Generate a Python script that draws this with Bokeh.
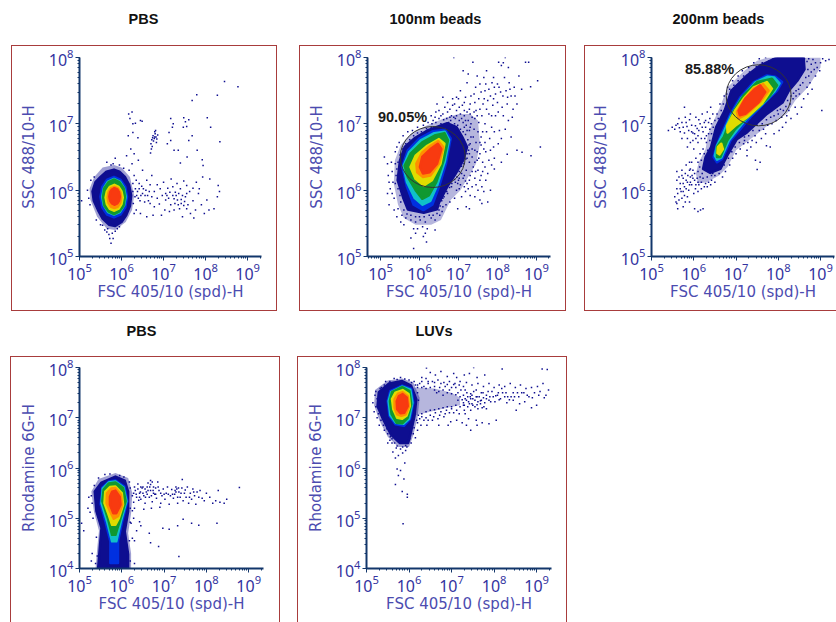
from bokeh.plotting import figure
from bokeh.layouts import column, row
from bokeh.models import Range1d, Label, LogTicker, Title
from bokeh.embed import file_html
from bokeh.resources import INLINE

FSC = "FSC 405/10 (spd)-H"
SSC = "SSC 488/10-H"
RHO = "Rhodamine 6G-H"
COL = dict(navy="#0e0e90", blue="#0030e0", cyan="#10c0c8", green="#109830", yellow="#e0dc00", orange="#ff9000", red="#f83a10")

# all values are log10 of the channel reading
pbs1_halo = [(5.82,6.38),(6.0,6.34),(6.2,6.2),(6.3,5.92),(6.25,5.7),(6.1,5.52),(5.85,5.4),(5.65,5.42),(5.42,5.6),(5.26,5.85),(5.24,6.02),(5.35,6.2),(5.55,6.34)]
pbs1_navy = [(5.82,6.31),(5.95,6.28),(6.08,6.20),(6.18,6.08),(6.23,5.92),(6.20,5.76),(6.11,5.62),(6.0,5.52),(5.85,5.46),(5.7,5.48),(5.55,5.57),(5.44,5.70),(5.34,5.84),(5.31,5.98),(5.38,6.12),(5.50,6.20),(5.64,6.28)]
pbs1_blue = [(6.13,5.90),(6.09,6.05),(5.97,6.16),(5.82,6.20),(5.66,6.16),(5.54,6.05),(5.50,5.90),(5.54,5.74),(5.66,5.63),(5.82,5.59),(5.97,5.63),(6.09,5.74)]
pbs1_cyan = [(6.10,5.90),(6.06,6.03),(5.96,6.13),(5.82,6.17),(5.68,6.13),(5.58,6.03),(5.54,5.90),(5.58,5.77),(5.68,5.67),(5.82,5.63),(5.96,5.67),(6.06,5.77)]
pbs1_green = [(6.08,5.90),(6.05,6.03),(5.95,6.12),(5.82,6.16),(5.69,6.12),(5.59,6.03),(5.56,5.90),(5.59,5.77),(5.69,5.68),(5.82,5.64),(5.95,5.68),(6.05,5.77)]
pbs1_yellow = [(6.03,5.89),(6.0,5.98),(5.93,6.05),(5.83,6.08),(5.72,6.05),(5.65,5.98),(5.62,5.89),(5.65,5.79),(5.72,5.72),(5.83,5.69),(5.93,5.72),(6.0,5.79)]
pbs1_orange = [(5.99,5.89),(5.97,5.97),(5.91,6.03),(5.83,6.05),(5.75,6.03),(5.69,5.97),(5.67,5.89),(5.69,5.81),(5.75,5.75),(5.83,5.73),(5.91,5.75),(5.97,5.81)]
pbs1_red = [(5.96,5.90),(5.94,5.97),(5.90,6.01),(5.83,6.03),(5.77,6.01),(5.73,5.97),(5.71,5.90),(5.73,5.84),(5.77,5.80),(5.83,5.78),(5.90,5.80),(5.94,5.84)]
pbs1_dots = [(8.45,7.64),(8.77,7.56),(8.28,7.43),(7.79,7.44),(7.68,7.35),(8.04,7.09),(8.12,6.95),(8.34,6.73),(6.17,7.15),(6.25,7.18),(6.2,7.08),(6.27,7.0),(6.33,7.01),(6.45,7.05),(6.49,7.04),(6.16,6.82),(6.27,6.87),(6.39,6.79),
(6.79,6.80),(6.72,6.76),(6.75,6.82),(6.78,6.78),(6.8,6.85),(6.82,6.8),(6.76,6.74),(6.84,6.77),(6.79,6.88),(6.74,6.79),(6.83,6.72),(6.7,6.7),(6.73,6.66),(6.71,6.62),(6.69,6.56),(6.81,6.9),(6.86,6.83),
(7.17,7.08),(7.23,7.0),(7.21,6.95),(7.13,6.87),(7.48,7.09),(7.47,6.95),(7.55,6.96),(7.6,7.06),(7.68,6.82),(7.52,7.03),(7.17,6.75),(7.09,6.7),(7.25,6.6),(7.35,6.6),(7.8,6.6),(7.6,6.75),(7.4,6.41),(7.56,6.5),(7.92,6.46),(7.94,6.37),(6.3,6.55),(6.4,6.45),(6.25,6.4),(6.5,6.3),(6.22,6.62),(6.12,6.52),
(6.3,6.22),(6.35,6.15),(6.42,6.1),(6.52,6.02),(6.6,6.15),(6.68,6.08),(6.72,6.22),(6.78,5.98),(6.85,6.08),(6.92,6.02),(7.0,6.12),(7.05,5.95),(7.1,6.03),(7.18,6.17),(7.22,6.05),(7.28,5.97),(7.32,6.1),(7.4,6.02),(7.48,6.14),(7.55,6.07),(7.62,5.98),(7.7,6.03),(7.78,6.12),(7.85,6.02),(7.93,6.2),(8.1,6.17),(8.3,6.07),(8.33,5.98),(8.28,5.9),
(6.27,5.98),(6.32,5.9),(6.38,5.98),(6.44,5.84),(6.5,5.95),(6.55,5.82),(6.62,5.92),(6.68,5.8),(6.72,5.9),(6.78,5.75),(6.85,5.88),(6.9,5.79),(6.97,5.92),(7.03,5.7),(7.12,5.88),(7.17,5.78),(7.22,5.92),(7.27,5.8),(7.33,5.85),(7.38,5.72),(7.42,5.86),(7.48,5.77),(7.52,5.9),(7.58,5.78),(7.64,5.65),(7.7,5.84),(7.76,5.7),(7.83,5.95),(7.9,5.78),(7.97,5.65),(8.03,5.85),(8.08,5.7),(8.2,5.72),(6.35,5.7),(6.45,5.65),(6.6,5.6),(6.75,5.62),(6.95,5.62),(7.14,5.68),(7.25,5.7),(7.45,5.6),(7.55,5.72),(7.72,5.58),
(5.75,5.2),(5.72,5.27),(5.7,5.33),(5.8,5.27),(5.65,5.37),(5.6,5.4),(5.85,5.38),(5.78,5.35),(5.67,5.42),(5.9,5.42),(5.95,5.45),(5.5,5.48),(5.55,5.47),(5.4,5.55),(5.25,5.78),(5.22,5.88),(5.05,5.84),(5.19,6.0),(5.27,6.15),(5.35,6.2),(5.65,6.42),(5.75,6.38),(5.85,6.48),(5.8,6.4),(5.95,6.38),(6.05,6.33),(6.18,6.3),(6.28,5.8),(6.3,5.65),(6.27,6.1),
(6.33,6.02),(6.36,5.92),(6.4,5.88),(6.42,6.02),(6.46,5.92),(6.48,6.06),(6.56,5.92),(6.58,6.0),(6.64,5.84),(6.66,5.98),(7.05,5.85),(7.08,5.92),(7.15,5.97),(7.25,5.87),(7.3,5.92),(7.35,5.78),(7.36,5.95),(7.42,5.8),(7.45,5.92),(7.5,5.83),(7.55,5.95)]

beads100_halo = [(6.7,7.1),(7.0,7.15),(7.3,7.15),(7.5,7.05),(7.55,6.7),(7.45,6.4),(7.25,6.2),(7.05,6.0),(6.8,5.85),(6.55,5.55),(6.3,5.48),(5.9,5.48),(5.6,5.58),(5.45,5.78),(5.34,6.1),(5.37,6.45),(5.52,6.68),(5.8,6.86),(6.2,6.98)]
beads100_navy = [(6.71,7.01),(6.95,6.95),(7.10,6.80),(7.22,6.65),(7.12,6.45),(6.93,6.25),(6.71,6.05),(6.50,5.81),(6.45,5.71),(6.11,5.66),(5.70,5.71),(5.58,5.89),(5.44,6.15),(5.50,6.45),(5.62,6.65),(5.87,6.78),(6.20,6.90)]
beads100_blue = [(6.66,6.91),(6.80,6.78),(6.68,6.40),(6.5,6.05),(6.33,5.78),(6.1,5.7),(5.85,5.78),(5.68,6.05),(5.56,6.35),(5.7,6.6),(6.0,6.78),(6.35,6.89)]
beads100_cyan = [(6.65,6.88),(6.76,6.76),(6.65,6.43),(6.46,6.08),(6.28,5.84),(6.08,5.78),(5.88,5.88),(5.68,6.12),(5.59,6.36),(5.73,6.57),(6.03,6.75),(6.38,6.86)]
beads100_green = [(6.64,6.86),(6.73,6.75),(6.62,6.45),(6.43,6.12),(6.24,5.92),(6.07,5.87),(5.90,6.0),(5.70,6.2),(5.62,6.37),(5.77,6.55),(6.07,6.72),(6.41,6.83)]
beads100_yellow = [(6.50,6.77),(6.64,6.70),(6.54,6.40),(6.32,6.15),(6.11,6.07),(5.90,6.17),(5.77,6.35),(5.90,6.52),(6.20,6.67)]
beads100_orange = [(6.48,6.74),(6.61,6.65),(6.50,6.40),(6.28,6.22),(6.09,6.20),(5.94,6.27),(5.92,6.40),(6.07,6.57),(6.28,6.67)]
beads100_red = [(6.47,6.70),(6.56,6.62),(6.45,6.40),(6.26,6.27),(6.09,6.25),(6.01,6.35),(6.07,6.50),(6.28,6.62)]
beads100_gate = (6.34, 6.50)
beads100_dots = [(6.88,8.0),(7.37,7.93),(8.03,7.93),(8.2,8.0),(8.72,7.93),(8.8,7.93),(9.03,7.65),(8.85,7.56),(9.1,6.65),(8.5,6.6),(8.63,6.57),(8.86,6.52),(8.25,6.54),
(8.1,7.88),(8.15,7.92),(8.28,7.85),(7.9,7.7),(7.72,7.8),(7.65,7.7),(8.0,7.6),(8.18,7.7),(8.3,7.62),(8.43,7.55),(8.55,7.72),(8.62,7.52),(8.35,7.42),(8.22,7.5),(8.08,7.48),(7.92,7.55),(7.82,7.42),(7.68,7.5),(7.55,7.6),(7.48,7.72),(7.25,7.75),(7.12,7.8),(7.22,7.62),(7.4,7.45),(7.52,7.38),(7.63,7.3),(7.75,7.35),(7.88,7.28),(8.0,7.32),(8.12,7.25),(8.25,7.3),(8.4,7.22),(8.5,7.3),(7.95,7.12),(7.78,7.15),(7.6,7.12),(7.45,7.2),(7.3,7.3),(7.18,7.4),(7.05,7.5),(6.95,7.4),(7.1,7.28),(7.22,7.18),(7.35,7.1),(7.52,7.02),(7.68,7.0),(7.85,6.95),(8.05,6.9),(8.2,6.92),(8.35,6.8),
(6.6,7.4),(6.72,7.32),(6.85,7.28),(6.95,7.2),(7.05,7.15),(7.15,7.12),(7.25,7.05),(7.32,7.0),(7.42,7.08),(6.45,7.3),(6.5,7.2),(6.6,7.15),(6.72,7.18),(6.82,7.12),(6.92,7.08),(7.02,7.05),(7.12,7.02),(7.2,6.98),(6.3,7.12),(6.4,7.1),(6.5,7.08),(6.22,7.02),(6.32,7.0),(6.42,7.02),(6.55,7.0),(6.62,7.06),(6.8,7.05),(7.28,6.9),(7.4,6.92),(7.5,6.88),(7.58,6.8),(7.38,6.8),(7.45,6.72),(7.58,6.68),(7.68,6.72),(7.8,6.78),(7.9,6.65),(8.02,6.7),(7.7,6.58),(7.55,6.55),(7.42,6.6),(7.35,6.5),(7.48,6.45),(7.62,6.42),(7.78,6.45),(7.92,6.48),(8.1,6.42),(7.28,6.42),(7.38,6.35),(7.5,6.3),(7.62,6.28),(7.75,6.25),(7.92,6.32),(7.2,6.3),(7.3,6.22),(7.42,6.18),(7.55,6.15),(7.12,6.18),(7.22,6.1),(7.35,6.05),(7.5,6.0),(7.65,5.98),(7.82,6.0),(7.05,6.08),(7.18,5.98),(7.3,5.92),(7.42,5.9),(7.55,5.85),(6.95,6.0),(7.08,5.9),(7.75,5.82),(7.6,5.8),(7.2,5.75),(7.28,5.72),(6.9,5.88),(6.78,5.82),(6.68,5.78),(6.98,5.72),
(6.55,5.95),(6.6,5.88),(6.72,5.95),(6.82,6.05),(6.52,5.62),(6.4,5.55),(6.3,5.58),(6.15,5.52),(6.02,5.55),(5.9,5.52),(5.78,5.55),(5.65,5.58),(5.55,5.62),(5.45,5.72),(5.6,5.48),(6.08,5.45),(6.2,5.42),(5.95,5.42),(6.15,5.35),(5.9,5.35),(5.85,5.42),(6.1,5.3),(5.78,5.28),(6.18,5.22),(5.85,5.12),(6.4,5.4),(5.35,5.88),(5.3,5.95),(5.25,6.02),(5.22,6.12),(5.32,6.12),(5.2,6.22),(5.3,6.28),(5.38,6.4),(5.28,6.42),(5.1,6.5),(5.18,6.4),(5.38,6.58),(5.42,6.65),(5.48,6.72),(5.58,6.82),(5.7,6.88),(5.82,6.9),(5.95,6.95),(6.1,6.98),(5.22,5.78),(5.18,5.95),(5.35,5.7),(5.42,5.6),(5.52,5.52)]
beads100_fringe = [(7.44,7.55),(7.58,7.48),(7.7,7.6),(7.78,7.52),(7.86,7.62),(7.95,7.45),(8.04,7.55),(8.14,7.42),(8.26,7.4),(8.32,7.52),(8.45,7.42),(7.32,7.42),(7.42,7.32),(7.55,7.22),(7.66,7.38),(7.72,7.22),(7.85,7.12),(7.9,7.38),(8.02,7.18),(8.15,7.12),(8.28,7.05),(8.38,7.1),(7.48,7.12),(7.62,6.88),(7.72,6.88),(7.92,6.88),(8.1,6.78),(7.55,6.72),(7.65,6.62),(7.82,6.6),(7.48,6.58),(7.52,6.48),(7.68,6.35),(7.85,6.38),(7.42,6.42),(7.44,6.28),(7.58,6.22),(7.7,6.15),(7.35,6.28),(7.28,6.15),(7.45,6.08),(7.18,6.14),(7.15,6.05),(7.25,6.02),(7.6,6.05),(7.0,6.15),(7.02,6.02),
(6.75,7.02),(6.82,6.98),(6.9,7.0),(6.98,6.98),(7.05,6.92),(7.12,6.88),(7.18,6.84),(7.24,6.76),(7.27,6.68),(7.26,6.6),(7.22,6.55),(7.19,6.47),(7.14,6.4),(7.08,6.36),(7.02,6.28),(6.96,6.2),(6.9,6.16),(6.83,6.1),(6.77,6.04),(6.7,5.98),(6.63,5.9),(6.57,5.84),(6.53,5.76),(6.5,5.7),(6.6,6.98),(6.5,6.95),(6.4,6.95),(6.3,6.94),(6.18,6.93),(6.05,6.88),(5.95,6.86),(5.85,6.82),(5.75,6.76),(5.65,6.7),(5.57,6.62),(5.5,6.53),(5.45,6.42),(5.42,6.32),(5.4,6.22),(5.38,6.1),(5.45,6.02),(5.5,5.92),(5.52,5.82),(5.6,5.7),(5.68,5.64),(5.78,5.62),(5.9,5.6),(6.0,5.6),(6.12,5.6),(6.25,5.62),(6.35,5.62),(6.45,5.65),
(7.0,6.6),(7.05,6.52),(7.1,6.6),(7.16,6.55),(7.22,6.48),(7.28,6.55),(7.3,6.7),(7.35,6.62),(7.32,6.8),(7.22,6.9),(7.15,6.95),(7.0,6.85),(6.95,6.72),(7.02,6.72),(7.1,6.72),(6.88,6.35),(6.95,6.42),(7.02,6.18),(6.85,6.2),(6.78,6.15),(6.72,6.12),(7.08,6.25),(7.15,6.22),(6.92,6.12),(6.98,6.1),(6.6,5.75),(6.58,5.68),(6.62,6.0),(6.88,7.1),(6.78,7.1),(6.7,7.08),(6.95,7.12),(7.08,7.08),(7.18,7.05),(7.3,6.95),(6.55,7.12),(6.42,7.18),(6.35,7.05),(6.65,7.25),(6.78,7.22),(6.9,7.3),(7.02,7.25),(7.15,7.2),(7.3,7.15),(7.4,7.18),(7.0,7.38),(7.15,7.32),(6.85,7.38),(7.28,7.22)]

beads200_halo = [(9.0,8.0),(9.0,7.85),(8.7,7.55),(8.4,7.35),(8.2,7.15),(7.8,7.0),(7.3,6.75),(7.0,6.6),(6.8,6.35),(6.6,6.22),(6.3,6.12),(6.1,6.1),(6.05,6.25),(6.12,6.42),(6.28,6.62),(6.34,6.85),(6.44,7.0),(6.62,7.25),(6.8,7.55),(7.2,7.8),(7.5,7.95),(7.75,8.0)]
beads200_navy = [(8.6,8.0),(8.62,7.82),(8.45,7.65),(8.25,7.50),(8.10,7.32),(7.73,7.15),(7.26,6.87),(7.02,6.77),(6.79,6.52),(6.63,6.32),(6.39,6.26),(6.22,6.32),(6.28,6.50),(6.41,6.65),(6.53,6.95),(6.73,7.20),(6.89,7.50),(7.26,7.73),(7.57,7.88),(7.97,8.0)]
beads200_blue = [(7.93,7.71),(8.09,7.63),(7.97,7.50),(7.65,7.30),(7.34,7.10),(7.10,6.92),(6.87,6.75),(6.67,6.47),(6.55,6.42),(6.47,6.50),(6.54,6.67),(6.67,6.87),(6.87,7.15),(7.10,7.40),(7.42,7.63),(7.73,7.73)]
beads200_cyan = [(7.90,7.70),(8.03,7.61),(7.90,7.48),(7.58,7.27),(7.25,7.08),(7.04,6.92),(6.83,6.75),(6.65,6.49),(6.55,6.46),(6.50,6.52),(6.55,6.67),(6.69,6.85),(6.88,7.12),(7.12,7.38),(7.45,7.62),(7.75,7.71)]
beads200_green = [(7.85,7.68),(7.97,7.58),(7.81,7.43),(7.50,7.23),(7.18,7.05),(6.98,6.92),(6.79,6.75),(6.63,6.50),(6.55,6.50),(6.55,6.65),(6.71,6.80),(6.85,7.03),(6.94,7.18),(7.18,7.43),(7.50,7.63)]
beads200_yellow = [(7.73,7.63),(7.85,7.53),(7.61,7.30),(7.26,7.10),(6.98,6.97),(6.80,6.87),(6.79,6.97),(6.98,7.20),(7.18,7.38),(7.42,7.55)]
beads200_yellow2 = [(6.65,6.70),(6.69,6.62),(6.61,6.54),(6.56,6.56),(6.57,6.65)]
beads200_orange = [(7.64,7.60),(7.77,7.50),(7.57,7.33),(7.26,7.15),(7.06,7.08),(7.02,7.18),(7.18,7.35),(7.42,7.53)]
beads200_red = [(7.57,7.58),(7.69,7.48),(7.54,7.33),(7.22,7.15),(7.09,7.13),(7.06,7.20),(7.22,7.38),(7.42,7.51)]
beads200_gate = (7.535, 7.43)
beads200_dots = [(9.03,7.2),(7.81,6.65),(7.72,6.67),(7.26,6.6),(7.26,6.52),(7.46,6.45),(7.57,6.42),(7.5,6.31),(9.05,7.98),(9.12,7.95),(9.0,7.92),(9.2,7.97),(8.98,7.8),(8.88,7.72),(8.75,7.62),(8.68,7.55),(8.5,7.45),(8.42,7.5),(8.35,7.38),(8.28,7.3),(8.4,7.25),(8.25,7.2),(8.6,7.38),(8.2,7.12),(8.08,7.1),(8.0,7.15),(7.95,7.05),(7.85,7.0),(7.75,6.98),(7.65,6.92),(7.55,6.9),(7.45,6.82),(7.38,6.75),(7.28,6.72),(7.18,6.7),(7.1,6.62),(7.0,6.55),(6.92,6.48),(6.85,6.38),(6.75,6.28),(6.68,6.2),
(6.55,7.15),(6.62,7.3),(6.72,7.42),(6.8,7.55),(6.92,7.65),(7.05,7.72),(7.15,7.8),(7.3,7.85),(7.42,7.92),(7.55,7.98),(7.7,8.0),(6.42,7.0),(6.35,6.85),(6.3,6.72),(6.22,6.62),(6.15,6.55),(6.05,6.48),(5.95,6.42),(5.9,6.3),
(5.49,6.95),(5.55,6.92),(5.62,7.0),(5.68,6.88),(5.75,6.95),(5.82,7.02),(5.88,6.9),(5.95,6.98),(6.02,6.85),(6.08,6.93),(6.15,7.0),(6.22,6.88),(6.28,6.95),(6.35,7.02),(5.72,6.78),(5.85,6.78),(5.98,6.75),(6.1,6.72),(6.18,6.78),(5.8,7.1),(5.92,7.15),(5.65,7.08),(6.05,7.1),(6.2,7.15),(6.32,7.18),(6.4,7.25),(5.78,7.25),(5.85,6.65),(6.0,6.62),(5.4,6.9),
(5.6,6.02),(5.62,5.95),(5.68,6.1),(5.7,5.98),(5.75,6.18),(5.78,6.05),(5.8,6.25),(5.85,6.12),(5.88,6.0),(5.92,6.2),(5.95,6.08),(5.98,6.3),(6.02,6.15),(6.08,6.18),(6.12,6.08),(6.18,6.12),(6.22,6.18),(6.28,6.1),(6.35,6.12),(6.42,6.15),(5.72,6.3),(5.82,6.38),(5.9,6.42),(5.65,6.2),(5.6,6.15),(5.55,5.9),(5.6,5.8),(5.65,5.85),(5.72,5.88),(5.78,5.92),(5.85,5.9),(5.62,5.72),(5.58,5.82),(5.75,5.75),(5.9,5.82),(6.0,5.95),(6.1,5.98),(6.16,5.7),(6.22,5.72),(6.1,5.68),(6.02,5.72),(5.6,6.28),(5.8,5.82),
(7.2,6.75),(7.35,6.65),(7.6,6.78),(7.9,6.85),(8.1,6.95),(8.3,7.08),(8.45,7.15),(8.55,7.25),(8.7,7.45),(8.8,7.52),(7.7,6.85),(7.48,6.72),(8.02,6.9),(8.18,7.02)]
beads200_fringe = [(8.62,7.98),(8.68,7.94),(8.72,7.98),(8.78,7.9),(8.82,7.97),(8.88,7.92),(8.92,7.85),(8.85,7.82),(8.78,7.78),(8.7,7.82),(8.72,7.72),(8.65,7.7),(8.58,7.62),(8.52,7.58),(8.48,7.52),(8.42,7.42),(8.36,7.46),(8.3,7.42),(8.22,7.35),(8.18,7.26),(8.12,7.2),(8.05,7.22),(7.98,7.2),(7.9,7.12),(7.82,7.1),(7.72,7.06),(7.62,7.0),(7.5,6.98),(7.4,6.9),(7.3,6.82),(7.2,6.8),(7.08,6.72),(6.98,6.65),(6.9,6.58),(6.82,6.48),(6.72,6.38),(6.6,6.25),(6.5,6.22),(6.42,6.22),(6.32,6.2),(6.2,6.25),(6.14,6.35),(6.1,6.42),(6.18,6.45),(6.25,6.55),(6.33,6.6),(6.38,6.75),(6.42,6.85),(6.46,6.95),(6.5,7.05),(6.58,7.08),(6.65,7.2),(6.7,7.3),(6.78,7.45),(6.85,7.52),(6.95,7.58),(7.05,7.65),(7.18,7.72),(7.32,7.78),(7.48,7.86),(7.62,7.92),(7.78,7.95),(7.88,7.98),
(8.5,7.75),(8.55,7.85),(8.4,7.7),(8.3,7.62),(8.15,7.45),(7.85,7.2),(7.62,7.08),(6.3,6.3),(6.4,6.3),(6.5,6.4),(6.3,6.42),(6.1,6.28),(6.02,6.25),(5.98,6.18),(5.92,6.12),(6.05,6.08),(6.15,6.2),(6.25,6.05),(6.32,6.05),(6.4,6.08),(5.82,6.15),(5.75,6.1),(6.45,6.25),(6.5,6.12),(6.38,7.08),(6.45,7.15),(6.28,7.05),(6.12,6.9),(5.95,6.88),(6.2,6.95),(6.3,6.82),(6.38,6.92),
(5.58,6.98),(5.66,6.94),(5.72,7.02),(5.78,6.86),(5.84,6.96),(5.9,7.06),(5.98,6.86),(6.04,6.97),(6.1,6.82),(6.12,7.06),(6.25,7.02),(6.26,6.78),(5.92,6.72),(6.05,6.78),(5.75,5.98),(5.82,6.02),(5.9,6.08),(5.96,6.22),(6.04,6.02),(6.1,6.12),(6.18,6.02),(5.86,6.22),(5.92,6.32),(5.68,6.02),(5.72,6.22)]

pbs2_halo = [(5.85,5.9),(6.15,5.8),(6.25,5.5),(6.22,5.1),(6.15,4.7),(6.22,4.3),(6.22,4.0),(5.38,4.0),(5.42,4.41),(5.46,4.75),(5.34,5.14),(5.28,5.53),(5.45,5.78)]
pbs2_navy = [(5.85,5.83),(6.07,5.75),(6.15,5.53),(6.15,5.14),(6.07,4.74),(6.15,4.28),(6.15,4.0),(5.44,4.0),(5.48,4.41),(5.52,4.81),(5.40,5.14),(5.36,5.53),(5.52,5.71)]
pbs2_blue = [(5.85,5.75),(6.06,5.63),(6.13,5.34),(6.01,4.94),(5.91,4.54),(5.91,4.11),(5.73,4.11),(5.73,4.54),(5.61,4.94),(5.50,5.28),(5.54,5.61),(5.69,5.73)]
pbs2_cyan = [(5.85,5.73),(6.04,5.61),(6.11,5.34),(5.98,4.94),(5.87,4.54),(5.77,4.54),(5.65,4.94),(5.52,5.30),(5.55,5.59),(5.69,5.71)]
pbs2_green = [(5.85,5.71),(6.03,5.60),(6.09,5.34),(5.97,5.0),(5.85,4.67),(5.77,4.67),(5.67,5.0),(5.54,5.34),(5.57,5.57),(5.69,5.69)]
pbs2_yellow = [(5.85,5.63),(6.0,5.50),(6.03,5.27),(5.93,5.0),(5.85,4.87),(5.77,4.87),(5.69,5.07),(5.59,5.30),(5.61,5.53),(5.72,5.62)]
pbs2_orange = [(5.85,5.60),(5.98,5.47),(6.01,5.27),(5.91,5.04),(5.81,4.99),(5.72,5.14),(5.64,5.30),(5.65,5.50),(5.75,5.59)]
pbs2_red = [(5.85,5.55),(5.95,5.43),(5.97,5.27),(5.87,5.10),(5.80,5.10),(5.72,5.27),(5.72,5.43),(5.77,5.53)]
pbs2_dots = [(8.78,5.61),(7.43,5.77),(7.35,4.24),(6.87,4.44),(6.68,4.51),(6.3,4.55),(6.25,4.6),(7.82,4.86),(8.25,4.9),(6.97,4.8),(7.12,4.78),(7.32,4.85),(6.45,4.85),(6.42,4.93),(6.2,4.92),(6.28,5.0),(6.35,4.75),(6.65,4.7),(7.45,4.98),(7.65,4.9),
(6.2,5.6),(6.25,5.45),(6.28,5.32),(6.32,5.55),(6.35,5.42),(6.38,5.68),(6.42,5.5),(6.45,5.38),(6.48,5.6),(6.52,5.45),(6.55,5.3),(6.58,5.52),(6.62,5.7),(6.65,5.42),(6.68,5.55),(6.72,5.33),(6.75,5.62),(6.78,5.48),(6.82,5.4),(6.85,5.72),(6.88,5.55),(6.92,5.3),(6.95,5.45),(6.98,5.58),(7.02,5.38),(7.05,5.5),(7.08,5.62),(7.12,5.28),(7.15,5.45),(7.18,5.57),(7.22,5.4),(7.25,5.48),(7.28,5.62),(7.32,5.3),(7.35,5.52),(7.38,5.42),(7.42,5.6),(7.45,5.35),(7.48,5.5),(7.52,5.42),(7.55,5.62),(7.58,5.3),(7.62,5.5),(7.65,5.38),(7.68,5.58),(7.72,5.45),(7.75,5.28),(7.78,5.52),(7.82,5.42),(7.85,5.55),(7.9,5.4),(7.95,5.35),(8.0,5.5),(8.08,5.42),(8.15,5.3),(8.22,5.35),(8.28,5.55),(8.32,5.32),(8.42,5.3),(8.48,5.38),
(6.28,5.5),(6.38,5.58),(6.45,5.62),(6.5,5.5),(6.6,5.62),(6.68,5.67),(6.75,5.5),(6.8,5.6),(6.72,5.72),(6.68,5.75),(6.62,5.55),(6.55,5.58),(6.42,5.42),(6.3,5.2),(6.25,5.15),(6.52,5.18),(6.7,5.2),(6.9,5.22),(7.28,5.52),(7.3,5.58),(7.32,5.42),
(5.25,5.12),(5.3,5.3),(5.22,5.42),(5.2,5.2),(5.05,4.9),(5.1,4.75),(5.28,5.45),(5.3,4.3),(5.28,4.15),(5.4,4.62),(5.42,4.25),(5.38,4.1),(5.32,5.0),(5.35,5.65),(5.45,5.8),(5.6,5.87),(5.72,5.88),(5.95,5.85),(6.05,5.82),(6.18,5.72),(6.2,5.2),(6.18,4.55),(6.2,4.15),(6.3,4.1),(6.22,4.9),
(6.3,5.62),(6.34,5.48),(6.4,5.36),(6.44,5.52),(6.5,5.62),(6.56,5.42),(6.6,5.48),(6.66,5.62),(6.7,5.45),(6.74,5.55),(6.8,5.48),(6.86,5.62),(6.92,5.5),(7.0,5.48),(7.1,5.48),(7.2,5.48),(7.26,5.55),(7.34,5.6),(7.4,5.5),(7.5,5.56),(7.6,5.42),(7.7,5.52)]

luvs_halo = [(5.84,7.78),(6.1,7.7),(6.25,7.4),(6.2,7.0),(6.1,6.65),(6.0,6.42),(5.75,6.42),(5.5,6.62),(5.3,6.95),(5.18,7.25),(5.2,7.55),(5.5,7.74)]
luvs_wing_halo = [(6.1,7.6),(6.6,7.58),(7.0,7.5),(7.2,7.4),(7.2,7.25),(6.9,7.2),(6.5,7.12),(6.15,7.05)]
luvs_navy = [(5.84,7.73),(6.05,7.64),(6.17,7.37),(6.13,7.04),(6.05,6.73),(5.98,6.50),(5.78,6.50),(5.58,6.66),(5.39,6.97),(5.26,7.23),(5.29,7.51),(5.53,7.68)]
luvs_blue = [(5.84,7.64),(6.05,7.58),(6.10,7.30),(6.02,6.97),(5.88,6.84),(5.68,6.87),(5.54,7.04),(5.50,7.33),(5.56,7.53)]
luvs_cyan = [(5.84,7.62),(6.03,7.56),(6.08,7.30),(6.0,6.98),(5.87,6.88),(5.69,6.90),(5.56,7.05),(5.52,7.33),(5.58,7.51)]
luvs_green = [(5.84,7.61),(6.01,7.53),(6.05,7.27),(5.97,7.0),(5.84,6.89),(5.71,6.90),(5.59,7.07),(5.55,7.33),(5.60,7.51)]
luvs_yellow = [(5.85,7.55),(5.99,7.47),(6.02,7.23),(5.94,7.04),(5.84,6.98),(5.72,7.0),(5.63,7.17),(5.60,7.37),(5.68,7.50)]
luvs_orange = [(5.85,7.51),(5.97,7.43),(6.0,7.23),(5.92,7.07),(5.82,7.04),(5.72,7.07),(5.66,7.20),(5.66,7.37),(5.74,7.48)]
luvs_red = [(5.85,7.47),(5.95,7.40),(5.97,7.23),(5.89,7.10),(5.80,7.09),(5.72,7.17),(5.71,7.33),(5.76,7.43)]
luvs_dots = [(6.41,7.99),(7.52,8.0),(8.19,7.97),(9.13,7.97),(9.25,7.96),(5.86,4.89),(5.96,5.42),(5.84,5.53),(5.68,5.67),(5.72,5.98),(5.88,5.78),(5.96,5.48),(5.75,5.85),(5.8,5.95),(5.9,6.1),(5.68,6.2),(5.75,6.25),(5.85,6.3),(5.62,6.32),(5.92,6.35),(5.5,6.5),(5.6,6.5),
(6.5,7.9),(6.62,7.85),(6.75,7.92),(6.9,7.82),(7.05,7.88),(7.12,7.8),(7.3,7.85),(7.42,7.88),(7.6,7.8),(7.78,7.85),(6.3,7.8),(6.4,7.78),(6.55,7.72),(6.68,7.75),(6.82,7.7),(6.95,7.72),(7.08,7.68),(7.2,7.72),(7.35,7.7),(7.48,7.65),(7.62,7.68),(7.75,7.62),(7.88,7.68),(8.0,7.6),(8.12,7.65),(8.25,7.62),(8.38,7.68),(8.5,7.6),(8.62,7.65),(8.75,7.58),(8.88,7.6),(9.02,7.62),(9.15,7.68),(9.28,7.55),(9.22,7.45),(9.05,7.45),(8.95,7.5),(8.82,7.42),(8.7,7.5),(8.58,7.42),(8.45,7.5),(8.32,7.42),(8.2,7.5),(8.08,7.45),(7.95,7.52),(7.82,7.45),(7.7,7.5),(7.58,7.55),(7.45,7.48),(7.32,7.55),(6.25,7.68),(6.35,7.62),(6.45,7.68),(6.6,7.62),(6.72,7.6),(6.85,7.62),(7.0,7.6),(7.1,7.6),(7.22,7.55),(7.38,7.42),(7.5,7.38),(7.62,7.32),(7.75,7.4),(7.88,7.35),(8.02,7.32),(8.15,7.38),(8.3,7.3),(8.45,7.35),(8.6,7.28),(8.72,7.32),(8.88,7.2),(9.0,7.25),(8.52,7.15),(7.28,7.3),(7.42,7.28),(7.55,7.22),(7.68,7.28),(7.82,7.18),(7.3,7.15),(7.12,7.15),(7.0,7.18),(6.88,7.15),(6.75,7.12),(6.62,7.1),(6.5,7.05),(6.4,7.0),(6.3,7.02),(6.2,6.9),(6.28,6.85),(6.42,6.85),(6.55,6.95),(6.68,6.98),(6.82,7.02),(6.98,6.92),(7.12,6.95),(7.25,6.9),(7.4,6.98),(7.58,6.95),(7.72,6.9),(7.88,6.88),(8.05,6.95),(6.7,6.85),(6.92,6.85),(7.35,6.85),(7.6,6.85),(7.45,6.75),
(7.28,7.45),(7.15,7.35),(7.32,7.38),(7.4,7.32),(7.48,7.45),(7.55,7.35),(7.65,7.42),(7.78,7.3),(7.9,7.42),(6.65,7.5),(6.8,7.45),(6.95,7.55),(7.15,7.5),(5.15,7.3),(5.18,7.12),(5.2,7.45),(5.25,7.0),(5.3,6.85),(5.35,7.6),(5.42,6.75),(5.5,6.68),(5.45,7.72),(5.65,7.78),(5.8,7.8),(6.0,7.75),(6.12,7.72),(6.2,7.6),(6.2,6.75),(6.15,6.6),(6.05,6.5),(5.55,6.55),(5.7,6.4),(5.8,6.38),(5.95,6.42)]
luvs_fringe = [(7.36,7.5),(7.44,7.42),(7.52,7.52),(7.6,7.42),(7.68,7.34),(7.74,7.5),(7.86,7.52),(7.92,7.32),(8.04,7.44),(8.12,7.36),(8.18,7.58),(8.28,7.5),(8.36,7.36),(8.48,7.42),(8.65,7.5),(8.78,7.45),(8.9,7.4),(9.08,7.52),(9.18,7.4),(7.3,7.25),(7.48,7.28),(7.6,7.26),(7.76,7.22),
(6.2,7.65),(6.3,7.6),(6.4,7.58),(6.5,7.6),(6.6,7.55),(6.7,7.52),(6.8,7.55),(6.9,7.5),(7.0,7.48),(7.1,7.46),(7.2,7.42),(7.25,7.36),(7.28,7.25),(7.2,7.22),(7.1,7.25),(7.0,7.22),(6.9,7.22),(6.8,7.2),(6.7,7.18),(6.6,7.16),(6.5,7.15),(6.4,7.12),(6.3,7.08),(6.22,7.05),(6.25,6.98),(6.35,6.95),(6.45,6.95),(6.58,7.02),(6.72,7.05),(6.85,7.08),(6.95,7.1),(7.05,7.1),(7.18,7.08),(7.32,7.08),(7.45,7.15),(7.38,7.22),(7.5,7.25),(7.62,7.18),(7.72,7.2),(7.35,7.35),(7.45,7.38),(7.58,7.42),(7.7,7.35),(7.82,7.38),(7.98,7.42),(8.1,7.5),(8.25,7.42),(8.4,7.42),(8.55,7.5),(6.3,7.72),(6.45,7.72),(6.6,7.7),(6.75,7.68),(6.9,7.66),(7.05,7.66),(7.18,7.65),(7.28,7.62),(5.25,7.38),(5.22,7.22),(5.28,7.08),(5.34,6.95),(5.4,6.85),(5.48,6.78),(5.56,6.62),(5.66,6.5),(5.22,7.52),(5.32,7.58),(5.42,7.65),(5.55,7.72),(5.72,7.76),(5.9,7.77),(6.06,7.7),(6.15,7.65),(6.2,7.5),(6.22,7.35),(6.18,6.95),(6.12,6.8),(6.1,6.68),(6.02,6.58),(5.92,6.45),(5.85,6.42),(5.72,6.44),(5.6,6.58)]

PANELS = [
    dict(title="PBS", ylabel=SSC, xr=(5, 9.33), yr=(5, 8), w=291, h=314, l=79, r=30, t=57, b=58, off=49, sp="20px", frame=(11, 45, 266, 266, ""), dots=pbs1_dots, gate=None, halos=[(pbs1_halo, 0.4)],
         layers=[("navy", pbs1_navy), ("blue", pbs1_blue), ("cyan", pbs1_cyan), ("green", pbs1_green), ("yellow", pbs1_yellow), ("orange", pbs1_orange), ("red", pbs1_red)]),
    dict(title="100nm beads", ylabel=SSC, xr=(4.667, 9.36), yr=(5, 8), w=285, h=314, l=76, r=26, t=57, b=58, off=22, sp="20px", frame=(8, 45, 267, 266, ""), dots=beads100_dots + beads100_fringe, gate=(beads100_gate, "90.05%", 35, 140), halos=[(beads100_halo, 0.3)],
         layers=[("navy", beads100_navy), ("blue", beads100_blue), ("cyan", beads100_cyan), ("green", beads100_green), ("yellow", beads100_yellow), ("orange", beads100_orange), ("red", beads100_red)]),
    dict(title="200nm beads", ylabel=SSC, xr=(5, 9.33), yr=(5, 8), w=260, h=314, l=75, r=2, t=57, b=58, off=21, sp="20px", frame=(8, 45, 260, 266, "border-right:none;"), dots=beads200_dots + beads200_fringe, gate=(beads200_gate, "85.88%", 58, 188), halos=[(beads200_halo, 0.3)],
         layers=[("navy", beads200_navy), ("blue", beads200_blue), ("cyan", beads200_cyan), ("green", beads200_green), ("yellow", beads200_yellow), ("yellow", beads200_yellow2), ("orange", beads200_orange), ("red", beads200_red)]),
    dict(title="PBS", ylabel=RHO, xr=(5, 9.35), yr=(4, 8), w=291, h=308, l=79, r=28, t=53, b=53, off=47, sp="18px", frame=(10, 42, 270, 270, "border-bottom:none;"), dots=pbs2_dots, gate=None, halos=[(pbs2_halo, 0.4)],
         layers=[("navy", pbs2_navy), ("blue", pbs2_blue), ("cyan", pbs2_cyan), ("green", pbs2_green), ("yellow", pbs2_yellow), ("orange", pbs2_orange), ("red", pbs2_red)]),
    dict(title="LUVs", ylabel=RHO, xr=(5, 9.35), yr=(4, 8), w=285, h=308, l=75, r=25, t=52, b=54, off=49, sp="18px", frame=(6, 42, 270, 270, "border-bottom:none;"), dots=luvs_dots + luvs_fringe, gate=None, halos=[(luvs_halo, 0.4), (luvs_wing_halo, 0.3)],
         layers=[("navy", luvs_navy), ("blue", luvs_blue), ("cyan", luvs_cyan), ("green", luvs_green), ("yellow", luvs_yellow), ("orange", luvs_orange), ("red", luvs_red)]),
]

AXIS = "#12366b"
TICK = "#3333a0"
LABEL = "#4c4cb0"
FRAME = "#a83c3c"


def make(c):
    p = figure(width=c["w"], height=c["h"], x_axis_type="log", y_axis_type="log",
               x_range=Range1d(10 ** c["xr"][0], 10 ** c["xr"][1]), y_range=Range1d(10 ** c["yr"][0], 10 ** c["yr"][1]),
               output_backend="svg", toolbar_location=None, min_border_left=c["l"], min_border_right=c["r"],
               min_border_top=c["t"], min_border_bottom=c["b"], x_axis_label=FSC, y_axis_label=c["ylabel"],
               title=Title(text=c["title"], align="left", vertical_align="top", offset=c["off"], text_font="Liberation Sans", text_font_size="14.5px", text_font_style="bold", text_color="#111111"))
    p.add_layout(Title(text=" ", text_font_size=c["sp"], standoff=0), "above")
    p.grid.visible = False
    p.outline_line_color = None
    for ax in (p.xaxis[0], p.yaxis[0]):
        ax.ticker = LogTicker(mantissas=[1], num_minor_ticks=10, desired_num_ticks=6)
        ax.axis_line_color = AXIS
        ax.axis_line_width = 2
        ax.major_tick_line_color = AXIS
        ax.minor_tick_line_color = AXIS
        ax.major_tick_in = 0
        ax.major_tick_out = 4
        ax.minor_tick_in = 0
        ax.minor_tick_out = 2
        ax.major_label_text_color = TICK
        ax.major_label_text_font = "Noto Sans"
        ax.major_label_text_font_size = "16px"
        ax.axis_label_text_color = LABEL
        ax.axis_label_text_font = "DejaVu Sans"
        ax.axis_label_text_font_size = "15px"
        ax.axis_label_text_font_style = "normal"
        ax.major_label_standoff = 2
        ax.axis_label_standoff = 0
    p.yaxis[0].axis_label_standoff = 8
    for pts, alpha in c["halos"]:
        p.patch([10 ** v[0] for v in pts], [10 ** v[1] for v in pts], fill_color=COL["navy"], fill_alpha=alpha, line_color=None)
    p.scatter([10 ** d[0] for d in c["dots"]], [10 ** d[1] for d in c["dots"]], size=1.5, marker="square", color=COL["navy"], line_color=None)
    for name, pts in c["layers"]:
        p.patch([10 ** v[0] for v in pts], [10 ** v[1] for v in pts], fill_color=COL[name], line_color=COL[name], line_width=2.5, line_join="round")
    if c["gate"]:
        (gx, gy), txt, lx, ly = c["gate"]
        p.ellipse([10 ** gx], [10 ** gy], width=[65], height=[61], width_units="screen", height_units="screen", fill_color=None, line_color="#333333", line_width=1)
        p.add_layout(Label(x=lx, y=ly, x_units="screen", y_units="screen", text=txt, text_font="Liberation Sans", text_font_size="14.5px", text_font_style="bold", text_color="#1a1a1a", text_align="center", text_baseline="middle"))
    fl, ft, fw, fh, extra = c["frame"]
    p.stylesheets = [f":host::after{{content:'';position:absolute;left:{fl}px;top:{ft}px;width:{fw}px;height:{fh}px;box-sizing:border-box;border:1.5px solid {FRAME};{extra}pointer-events:none;}}"]
    return p


figs = [make(c) for c in PANELS]
page = column(row(figs[0], figs[1], figs[2], spacing=0), row(figs[3], figs[4], spacing=0), spacing=0)
open("out.html", "w").write(file_html(page, INLINE))
